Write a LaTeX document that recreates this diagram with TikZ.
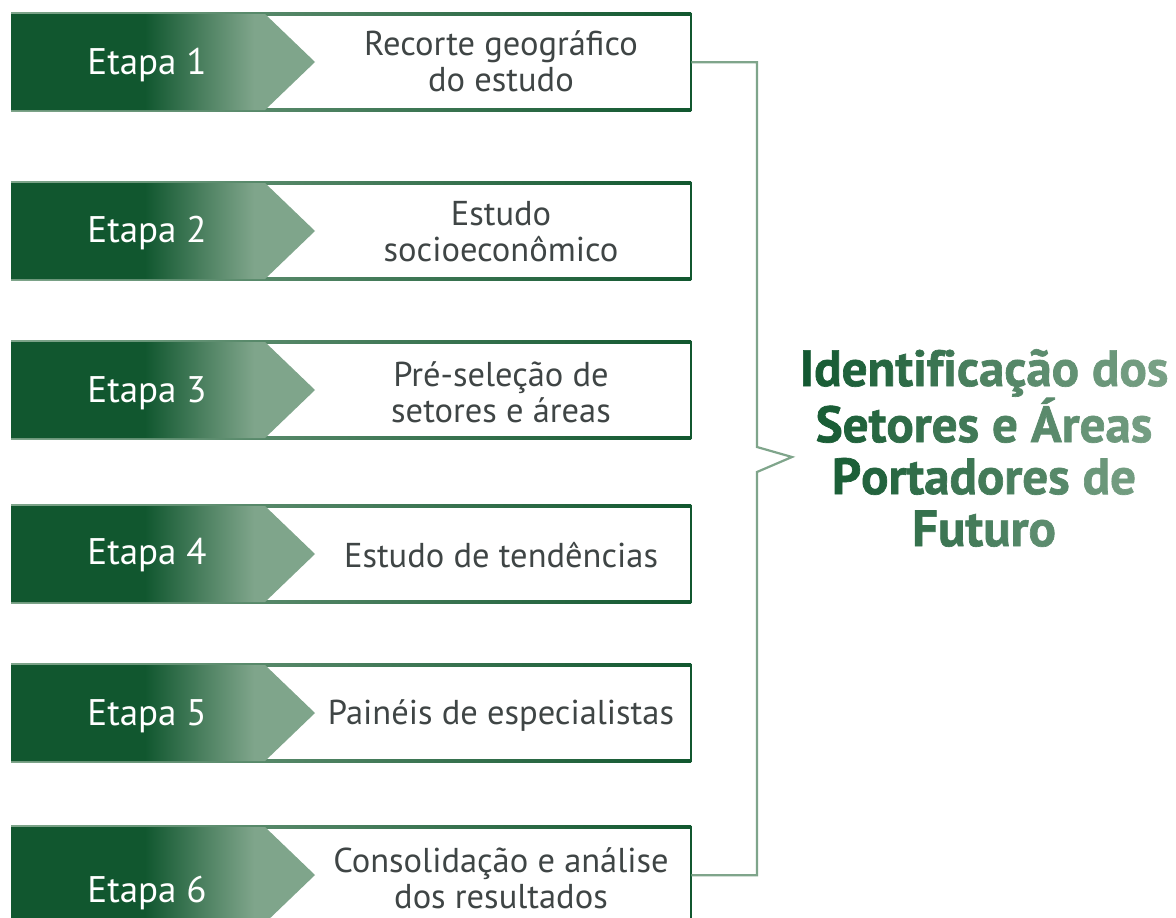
\documentclass[tikz,border=0pt]{standalone}
\usepackage{fontspec}
\setmainfont{PT Sans}
\newfontfamily\titlefont{PT Sans}[UprightFont=* Bold, FakeBold=1.3]
\usetikzlibrary{calc}
\definecolor{dg}{HTML}{11572F}
\definecolor{lg}{HTML}{7FA58B}
\definecolor{txt}{HTML}{3F4545}
\pgfdeclarehorizontalshading{stepgrad}{100bp}{color(0bp)=(dg); color(47bp)=(dg); color(65bp)=(lg); color(100bp)=(lg)}
\makeatletter
\newcommand\gradword[3]{\def\gw@p{#1}\def\gw@s{#2}\gw@loop#3\relax}
\def\gw@loop#1{\ifx\relax#1\else{\color{lg!\gw@p!dg}#1}\pgfmathtruncatemacro\gw@p{\gw@p+\gw@s}\expandafter\gw@loop\fi}
\makeatother
\newcommand\steprow[5]{% n, top, labelY, textY, text
  \shade[left color=lg, right color=dg] (11,#2-1.2) rectangle (691,#2+1.2);
  \shade[left color=lg, right color=dg] (11,#2+94.8) rectangle (691,#2+97.2);
  \node[boxst, anchor=north west] (b#1) at (11,#2) {};
  \fill[dg] (689.8,#2-1.2) rectangle (692.2,#2+97.2);
  \shade[shading=stepgrad] (11,#2) -- (265,#2) -- (315,#2+48) -- (265,#2+96) -- (11,#2+96) -- cycle;
  \node[etapa] (e#1) at (147,#3) {Etapa #1};
  \node[desc] (t#1) at (501,#4) {#5};
}
\begin{document}
\begin{tikzpicture}[x=1pt,y=-1pt,
  boxst/.style={minimum width=680pt, minimum height=96pt, inner sep=0pt, draw=none},
  etapa/.style={text=white, font=\fontsize{37}{38}\selectfont, inner sep=0pt},
  desc/.style={text=txt, font=\fontsize{34.5}{36}\selectfont, align=center, inner sep=0pt},
  bracket/.style={draw=lg, line width=2.2pt, line join=miter},
  title/.style={font=\titlefont\fontsize{51}{52}\selectfont, align=center, inner sep=0pt}]
\fill[white] (0,0) rectangle (1176,918);
\useasboundingbox (0,0) rectangle (1176,918);
\steprow{1}{14}{65}{61}{Recorte geográfico\\do estudo}
\steprow{2}{183}{233}{232}{Estudo\\socioeconômico}
\steprow{3}{342}{393}{392}{Pré-seleção de\\setores e áreas}
\steprow{4}{506}{555}{555}{Estudo de tendências}
\steprow{5}{665}{716}{716}{Painéis de especialistas}
\steprow{6}{827}{893}{878}{Consolidação e análise\\dos resultados}
\coordinate (n1) at (757,447);
\coordinate (tip) at (792,457);
\coordinate (n2) at (757,472);
\draw[bracket] (b1.east) -| (n1) -- (tip) -- (n2) |- (b6.east);
\node[title] (title) at (984,448) {\gradword{2}{6}{Identificação} \gradword{82}{6}{dos}\\
\gradword{8}{6}{Setores} \gradword{56}{0}{e} \gradword{66}{6}{Áreas}\\
\gradword{10}{6}{Portadores} \gradword{82}{6}{de}\\
\gradword{33}{7}{Futuro}};
\end{tikzpicture}
\end{document}
